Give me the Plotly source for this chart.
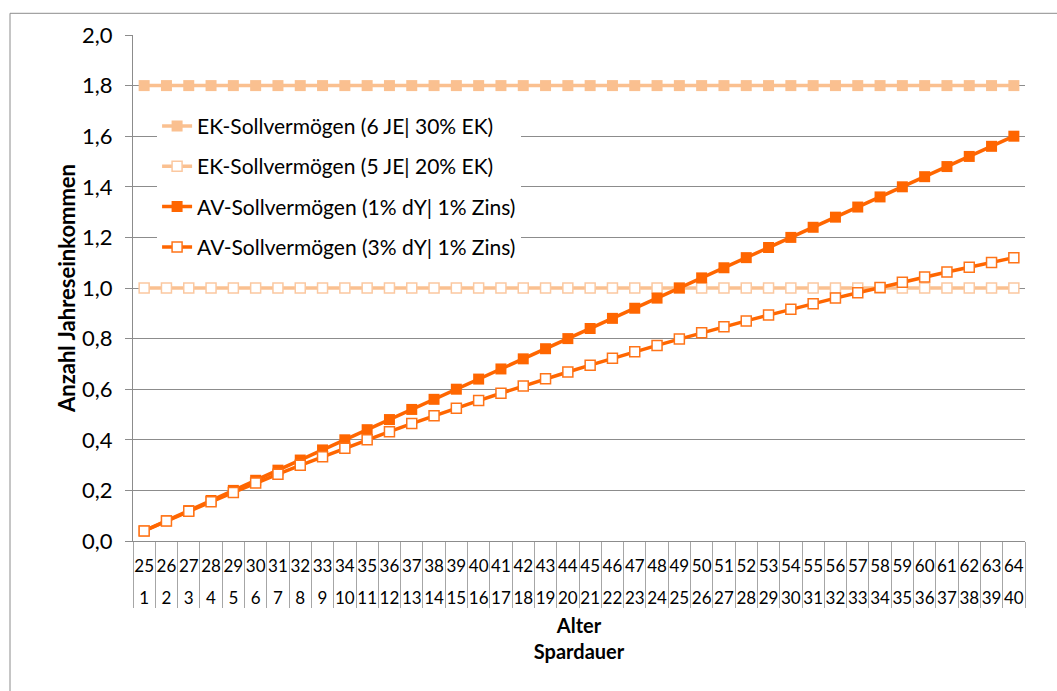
import plotly.graph_objects as go

# Categories: age and saving duration (two label rows on the x axis)
alter = [str(a) for a in range(25, 65)]
spardauer = [str(s) for s in range(1, 41)]

# Target wealth in multiples of annual income
ek_6je_30 = [1.8, 1.8, 1.8, 1.8, 1.8, 1.8, 1.8, 1.8, 1.8, 1.8,
             1.8, 1.8, 1.8, 1.8, 1.8, 1.8, 1.8, 1.8, 1.8, 1.8,
             1.8, 1.8, 1.8, 1.8, 1.8, 1.8, 1.8, 1.8, 1.8, 1.8,
             1.8, 1.8, 1.8, 1.8, 1.8, 1.8, 1.8, 1.8, 1.8, 1.8]
ek_5je_20 = [1.0, 1.0, 1.0, 1.0, 1.0, 1.0, 1.0, 1.0, 1.0, 1.0,
             1.0, 1.0, 1.0, 1.0, 1.0, 1.0, 1.0, 1.0, 1.0, 1.0,
             1.0, 1.0, 1.0, 1.0, 1.0, 1.0, 1.0, 1.0, 1.0, 1.0,
             1.0, 1.0, 1.0, 1.0, 1.0, 1.0, 1.0, 1.0, 1.0, 1.0]
av_1dy_1z = [0.04, 0.08, 0.12, 0.16, 0.20, 0.24, 0.28, 0.32, 0.36, 0.40,
             0.44, 0.48, 0.52, 0.56, 0.60, 0.64, 0.68, 0.72, 0.76, 0.80,
             0.84, 0.88, 0.92, 0.96, 1.00, 1.04, 1.08, 1.12, 1.16, 1.20,
             1.24, 1.28, 1.32, 1.36, 1.40, 1.44, 1.48, 1.52, 1.56, 1.60]
av_3dy_1z = [0.040, 0.079, 0.118, 0.155, 0.192, 0.229, 0.264, 0.299, 0.333, 0.367,
             0.400, 0.432, 0.464, 0.495, 0.525, 0.555, 0.584, 0.613, 0.641, 0.668,
             0.695, 0.722, 0.748, 0.773, 0.798, 0.823, 0.847, 0.870, 0.893, 0.916,
             0.938, 0.960, 0.981, 1.002, 1.023, 1.043, 1.063, 1.082, 1.101, 1.120]

names = ["EK-Sollvermögen (6 JE| 30% EK)",
         "EK-Sollvermögen (5 JE| 20% EK)",
         "AV-Sollvermögen (1% dY| 1% Zins)",
         "AV-Sollvermögen (3% dY| 1% Zins)"]

LIGHT = "#FAC090"
LIGHT_EDGE = "#FBC8A0"
DARK = "#FF6600"
DARK_EDGE = "#FF7418"
GRID = "#8C8C8C"
DIVIDER = "#A6A6A6"
FONT = "Lato"

fig = go.Figure()
fig.add_trace(go.Scatter(
    x=alter, y=ek_6je_30, name=names[0], mode="lines+markers", legendgroup="a",
    line=dict(color=LIGHT, width=3.5),
    marker=dict(symbol="square", size=11, color=LIGHT, line=dict(width=0))))
fig.add_trace(go.Scatter(
    x=alter, y=ek_5je_20, name=names[1], mode="lines+markers", legendgroup="b",
    line=dict(color=LIGHT, width=3.5),
    marker=dict(symbol="square", size=10, color="white",
                line=dict(color=LIGHT_EDGE, width=1.5))))
fig.add_trace(go.Scatter(
    x=alter, y=av_1dy_1z, name=names[2], mode="lines+markers", legendgroup="c",
    line=dict(color=DARK, width=3.5),
    marker=dict(symbol="square", size=11, color=DARK, line=dict(width=0))))
fig.add_trace(go.Scatter(
    x=alter, y=av_3dy_1z, name=names[3], mode="lines+markers", legendgroup="d",
    line=dict(color=DARK, width=3.5),
    marker=dict(symbol="square", size=10, color="white",
                line=dict(color=DARK_EDGE, width=1.5))))
# empty carrier trace so the saving-duration axis gets its categories
fig.add_trace(go.Scatter(
    x=spardauer, y=[None] * len(spardauer), xaxis="x2", mode="lines",
    showlegend=False, hoverinfo="skip"))

fig.update_layout(
    width=1057, height=691,
    margin=dict(l=133, r=32, t=35, b=150),
    paper_bgcolor="white", plot_bgcolor="white",
    separators=",.",
    font=dict(family=FONT, color="black"),
    showlegend=True,
    legend=dict(
        x=0.027, y=0.86, xanchor="left", yanchor="top",
        bgcolor="white", borderwidth=0,
        font=dict(family=FONT, size=21, color="black"),
        tracegroupgap=10, traceorder="grouped",
    ),
    # upper label row: age, with boundary ticks spanning both rows
    xaxis=dict(
        type="category", categoryorder="array", categoryarray=alter,
        range=[-0.5, 39.5], automargin=False,
        showline=True, linecolor=GRID, linewidth=1,
        showgrid=False,
        ticks="outside", tickson="boundaries", ticklen=66,
        tickcolor=DIVIDER, tickwidth=1,
        tickangle=0, ticklabelstandoff=10,
        tickfont=dict(family=FONT, size=17, color="black"),
    ),
    # lower label row: saving duration
    xaxis2=dict(
        type="category", categoryorder="array", categoryarray=spardauer,
        overlaying="x", anchor="y", side="bottom",
        range=[-0.5, 39.5], automargin=False,
        showline=False, showgrid=False, zeroline=False,
        ticks="", tickangle=0, ticklabelstandoff=45,
        tickfont=dict(family=FONT, size=17, color="black"),
        title=dict(text="<b>Alter</b><br><b>Spardauer</b>",
                   font=dict(family=FONT, size=20, color="black"),
                   standoff=11),
    ),
    yaxis=dict(
        range=[0, 2.0], dtick=0.2, tick0=0, tickformat=".1f",
        showline=True, linecolor=GRID, linewidth=1,
        showgrid=True, gridcolor=GRID, gridwidth=1,
        zeroline=False,
        ticks="outside", ticklen=7, tickcolor=GRID,
        ticklabelstandoff=8,
        tickfont=dict(family=FONT, size=22, color="black"),
        title=dict(text="<b>Anzahl Jahreseinkommen</b>",
                   font=dict(family=FONT, size=22, color="black"),
                   standoff=0),
    ),
    shapes=[dict(
        type="rect", xref="paper", yref="paper",
        x0=(10 - 133) / 892, x1=1.2,
        y0=-0.5, y1=(541 - 13.3) / 506,
        line=dict(color=GRID, width=1), fillcolor="rgba(0,0,0,0)",
        layer="below")],
)

fig.write_html("out.html")
